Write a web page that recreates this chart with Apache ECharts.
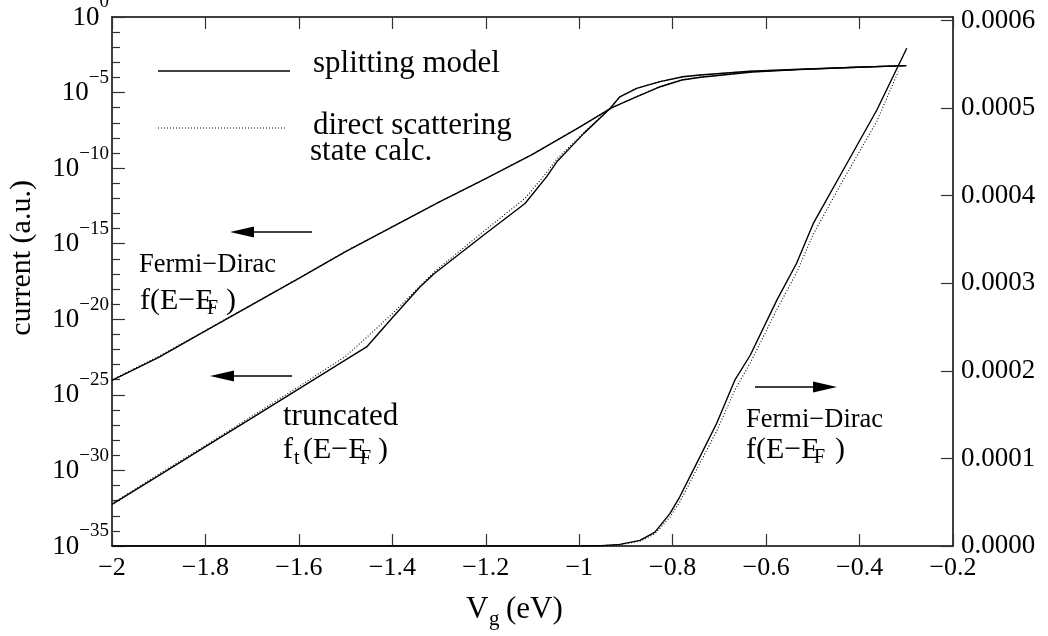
<!DOCTYPE html>
<html>
<head>
<meta charset="utf-8">
<script src="https://cdn.jsdelivr.net/npm/echarts@6/dist/echarts.min.js"></script>
<style>
  html, body { margin: 0; padding: 0; background: #fff; }
  #chart { width: 1048px; height: 636px; }
</style>
</head>
<body>
<div id="chart"></div>
<script>
// Fermi-Dirac curve, log10(current) on the left axis
const fdX = [-2.0, -1.9, -1.8, -1.7, -1.6, -1.5, -1.4, -1.3, -1.2, -1.1, -1.0, -0.93, -0.88, -0.83, -0.78, -0.74, -0.63, -0.53, -0.42, -0.3];
const fdSplitLog = [-24.04, -22.52, -20.77, -19.03, -17.29, -15.52, -13.89, -12.25, -10.7, -9.09, -7.3, -6.0, -5.32, -4.65, -4.17, -3.99, -3.64, -3.48, -3.34, -3.22];
const fdDirectLog = [-24.0, -22.45, -20.74, -19.0, -17.27, -15.5, -13.87, -12.23, -10.68, -9.07, -7.29, -6.0, -5.3, -4.63, -4.15, -3.97, -3.63, -3.47, -3.33, -3.21];

// truncated distribution, log10(current) on the left axis
const truncX = [-2.0, -1.9, -1.8, -1.7, -1.6, -1.5, -1.455, -1.4, -1.341, -1.31, -1.205, -1.116, -1.07, -1.048, -0.99, -0.934, -0.913, -0.877, -0.827, -0.778, -0.741, -0.634, -0.527, -0.42, -0.3];
const truncSplitLog = [-32.25, -30.34, -28.43, -26.52, -24.6, -22.69, -21.83, -19.9, -17.86, -16.97, -14.44, -12.34, -10.58, -9.58, -7.7, -6.05, -5.28, -4.72, -4.28, -3.95, -3.84, -3.59, -3.46, -3.34, -3.22];
const truncDirectLog = [-32.2, -30.25, -28.35, -26.4, -24.45, -22.45, -21.2, -19.64, -17.8, -16.85, -14.2, -12.0, -10.3, -9.4, -7.65, -6.05, -5.27, -4.71, -4.27, -3.94, -3.83, -3.58, -3.45, -3.33, -3.21];

// Fermi-Dirac curve, linear current on the right axis
const linSplitX = [-2.0, -1.5, -1.0, -0.96, -0.913, -0.87, -0.838, -0.806, -0.785, -0.749, -0.706, -0.667, -0.634, -0.577, -0.535, -0.499, -0.435, -0.363, -0.299];
const linSplit = [0, 0, 0, 0.0000002, 0.0000018, 0.0000064, 0.0000159, 0.0000369, 0.0000559, 0.0000941, 0.0001398, 0.0001893, 0.0002178, 0.0002807, 0.0003226, 0.0003683, 0.0004293, 0.0004978, 0.0005683];
const linDirectX = [-2.0, -1.5, -1.0, -0.96, -0.913, -0.87, -0.838, -0.806, -0.785, -0.749, -0.706, -0.667, -0.634, -0.577, -0.535, -0.499, -0.435, -0.363, -0.317];
const linDirect = [0, 0, 0, 0.0000001, 0.0000015, 0.0000055, 0.000014, 0.000033, 0.00005, 0.000087, 0.000131, 0.000178, 0.000209, 0.00027, 0.000312, 0.000356, 0.000418, 0.000485, 0.0005416];

const FONT = '"Liberation Serif", "Times New Roman", serif';

function zip(xs, ys) {
  return xs.map((x, i) => [x, ys[i]]);
}

function minusNum(v) {
  const a = String(+Math.abs(v).toFixed(1));
  return v < 0 ? '\u2212' + a : a;
}

function lineSeries(xs, ys, yIndex, dotted) {
  return {
    type: 'line',
    xAxisIndex: 0,
    yAxisIndex: yIndex,
    data: zip(xs, ys),
    showSymbol: false,
    symbol: 'none',
    lineStyle: {
      color: '#000',
      width: dotted ? 1.1 : 1.4,
      type: dotted ? [1, 2] : 'solid'
    },
    z: dotted ? 3 : 4
  };
}

function txt(x, y, text, size, extra) {
  return Object.assign({
    type: 'text',
    x: x,
    y: y,
    style: {
      text: text,
      fontSize: size,
      fontFamily: FONT,
      fill: '#000',
      align: 'left',
      verticalAlign: 'middle',
      textAlign: 'left',
      textVerticalAlign: 'middle'
    }
  }, extra || {});
}

function arrow(x1, x2, y, pointLeft) {
  const tip = pointLeft ? x1 : x2;
  const base = pointLeft ? x1 + 24 : x2 - 24;
  return [
    {
      type: 'line',
      shape: pointLeft ? { x1: base, y1: y, x2: x2, y2: y } : { x1: x1, y1: y, x2: base, y2: y },
      style: { stroke: '#000', lineWidth: 1.5 }
    },
    {
      type: 'polygon',
      shape: { points: [[tip, y], [base, y - 5.5], [base, y + 5.5]] },
      style: { fill: '#000' }
    }
  ];
}

const chart = echarts.init(document.getElementById('chart'), null, { renderer: 'canvas' });

const option = {
  animation: false,
  backgroundColor: '#fff',
  grid: { left: 112, right: 95, top: 17, bottom: 90, containLabel: false, outerBoundsMode: 'none' },
  xAxis: [
    {
      type: 'value',
      position: 'bottom',
      min: -2,
      max: -0.2,
      interval: 0.2,
      axisLine: { show: true, onZero: false, lineStyle: { color: '#000', width: 1.5 } },
      axisTick: { show: true, inside: true, length: 12, lineStyle: { color: '#333', width: 1.2 } },
      axisLabel: { show: true, margin: 9, color: '#000', fontSize: 26, fontFamily: FONT, formatter: minusNum },
      splitLine: { show: false }
    },
    {
      type: 'value',
      position: 'top',
      min: -2,
      max: -0.2,
      interval: 0.2,
      axisLine: { show: true, onZero: false, lineStyle: { color: '#000', width: 1.5 } },
      axisTick: { show: true, inside: true, length: 12, lineStyle: { color: '#333', width: 1.2 } },
      axisLabel: { show: false },
      splitLine: { show: false }
    }
  ],
  yAxis: [
    {
      type: 'value',
      position: 'left',
      min: -35,
      max: 0,
      interval: 5,
      axisLine: { show: true, onZero: false, lineStyle: { color: '#000', width: 1.5 } },
      axisTick: { show: true, inside: true, length: 13, lineStyle: { color: '#333', width: 1.2 } },
      minorTick: { show: true, splitNumber: 5, length: 8, lineStyle: { color: '#333', width: 1.2 } },
      axisLabel: {
        show: true,
        margin: 3,
        padding: [0, 0, 10, 0],
        formatter: function (v) {
          const e = Math.round(v);
          return '{b|10}{s|' + (e === 0 ? '0' : '\u2212' + (-e)) + '}';
        },
        rich: {
          b: { fontSize: 27, fontFamily: FONT, color: '#000', padding: [11, 0, 0, 0], verticalAlign: 'bottom' },
          s: { fontSize: 19, fontFamily: FONT, color: '#000', verticalAlign: 'top' }
        }
      },
      splitLine: { show: false }
    },
    {
      type: 'value',
      position: 'right',
      min: 0,
      max: 0.000604,
      interval: 0.0001,
      axisLine: { show: true, onZero: false, lineStyle: { color: '#000', width: 1.5 } },
      axisTick: { show: true, inside: true, length: 12, lineStyle: { color: '#333', width: 1.2 } },
      axisLabel: {
        show: true,
        margin: 8,
        padding: [5, 0, 0, 0],
        showMaxLabel: false,
        color: '#000',
        fontSize: 27,
        fontFamily: FONT,
        formatter: function (v) { return v.toFixed(4); }
      },
      splitLine: { show: false }
    }
  ],
  series: [
    lineSeries(fdX, fdDirectLog, 0, true),
    lineSeries(fdX, fdSplitLog, 0, false),
    lineSeries(truncX, truncDirectLog, 0, true),
    lineSeries(truncX, truncSplitLog, 0, false),
    lineSeries(linDirectX, linDirect, 1, true),
    lineSeries(linSplitX, linSplit, 1, false)
  ],
  graphic: [
    // legend
    { type: 'line', shape: { x1: 158, y1: 71, x2: 290, y2: 71 }, style: { stroke: '#000', lineWidth: 1.3 } },
    txt(313, 64, 'splitting model', 31),
    { type: 'line', shape: { x1: 158, y1: 128, x2: 287, y2: 128 }, style: { stroke: '#000', lineWidth: 1.1, lineDash: [1, 2] } },
    txt(313, 126, 'direct scattering', 31),
    txt(310, 152, 'state calc.', 31),
    // annotations
    ...arrow(230, 312, 232, true),
    ...arrow(210, 292, 376, true),
    ...arrow(755, 837, 387, false),
    txt(139, 265, 'Fermi\u2212Dirac', 26.5),
    txt(140, 301, 'f(E\u2212E', 30),
    txt(207, 309, 'F', 20),
    txt(226, 301, ')', 30),
    txt(283, 417, 'truncated', 31),
    txt(283, 450, 'f', 30),
    txt(294, 459, 't', 20),
    txt(303, 450, '(E\u2212E', 30),
    txt(360, 459, 'F', 20),
    txt(378, 450, ')', 30),
    txt(746, 420, 'Fermi\u2212Dirac', 26.5),
    txt(746, 450, 'f(E\u2212E', 30),
    txt(814, 458, 'F', 20),
    txt(835, 450, ')', 30),
    // axis titles
    txt(466, 610, 'V', 31),
    txt(489, 619, 'g', 21),
    txt(506, 610, '(eV)', 31),
    txt(22, 258, 'current (a.u.)', 30, { rotation: Math.PI / 2, style: { text: 'current (a.u.)', fontSize: 30, fontFamily: FONT, fill: '#000', align: 'center', verticalAlign: 'middle', textAlign: 'center', textVerticalAlign: 'middle' } })
  ]
};

chart.setOption(option);
</script>
</body>
</html>
